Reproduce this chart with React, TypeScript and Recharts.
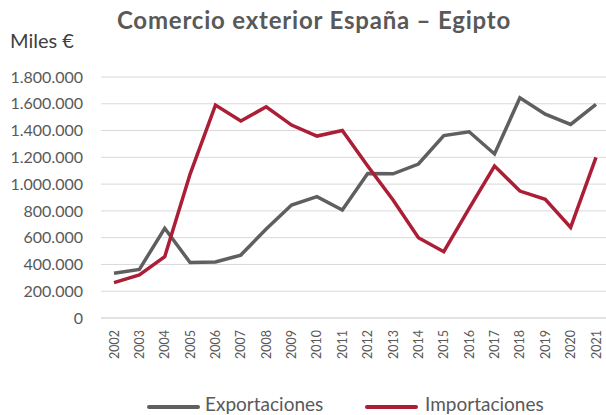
import React from "react";
import { LineChart, Line, XAxis, YAxis, CartesianGrid, Legend } from "recharts";

const years = ["2002","2003","2004","2005","2006","2007","2008","2009","2010","2011","2012","2013","2014","2015","2016","2017","2018","2019","2020","2021"];
const exportaciones = [334000, 363000, 670000, 414000, 418000, 470000, 665000, 844000, 906000, 807000, 1080000, 1077000, 1150000, 1362000, 1391000, 1225000, 1645000, 1522000, 1446000, 1596000];
const importaciones = [264000, 321000, 458000, 1075000, 1590000, 1471000, 1578000, 1441000, 1359000, 1401000, 1135000, 881000, 600000, 495000, 819000, 1135000, 948000, 886000, 677000, 1200000];
const yTicks = [0, 200000, 400000, 600000, 800000, 1000000, 1200000, 1400000, 1600000, 1800000];

const data = years.map((y, i) => ({ year: y, Exportaciones: exportaciones[i], Importaciones: importaciones[i] }));

const GRAY = "#5f5f5f";
const RED = "#ab1e36";
const TEXT = "#595959";
const FONT = "Lato, 'Open Sans', sans-serif";

const fmt = (v: number) => String(v).replace(/\B(?=(\d{3})+(?!\d))/g, ".");

const XTick = (props: any) => {
  const { x, y, payload } = props;
  const ty = y + 2;
  return (
    <text x={x} y={ty} transform={`rotate(-90, ${x}, ${ty})`} textAnchor="end" dominantBaseline="central" fill={TEXT} fontSize={12.5} fontFamily={FONT}>
      {payload.value}
    </text>
  );
};

const LegendContent = () => (
  <div style={{ position: "relative", width: 606, height: 20, fontFamily: FONT, fontSize: 19, color: TEXT }}>
    <div style={{ position: "absolute", left: 147, top: 10, width: 53, height: 4, background: GRAY, borderRadius: 2 }} />
    <div style={{ position: "absolute", left: 205, top: -2, lineHeight: "22px", whiteSpace: "nowrap" }}>Exportaciones</div>
    <div style={{ position: "absolute", left: 365, top: 10, width: 53, height: 4, background: RED, borderRadius: 2 }} />
    <div style={{ position: "absolute", left: 425, top: -2, lineHeight: "22px", whiteSpace: "nowrap" }}>Importaciones</div>
  </div>
);

export default function App() {
  return (
    <div style={{ position: "absolute", left: 0, top: 0, width: 606, height: 415, background: "#fff", overflow: "hidden" }}>
      <div style={{ position: "absolute", left: 0, top: 5, width: 628, textAlign: "center", fontFamily: FONT, fontWeight: 700, fontSize: 24, letterSpacing: 0.8, color: TEXT, whiteSpace: "nowrap" }}>
        Comercio exterior España – Egipto
      </div>
      <div style={{ position: "absolute", left: 10, top: 28, fontFamily: FONT, fontSize: 20, color: "#404040", whiteSpace: "nowrap" }}>
        Miles €
      </div>
      <LineChart width={606} height={415} data={data} margin={{ top: 77, right: 0, bottom: 0, left: 0 }}>
        <CartesianGrid horizontal={true} vertical={false} stroke="#d9d9d9" strokeWidth={1} />
        <XAxis dataKey="year" type="category" interval={0} tick={<XTick />} tickLine={false} axisLine={{ stroke: "#d9d9d9" }} height={77} padding={{ left: 13, right: 10 }} tickMargin={4} />
        <YAxis type="number" domain={[0, 1800000]} ticks={yTicks} tickFormatter={fmt} width={101} tickLine={false} axisLine={false} tickMargin={12} tick={{ fill: TEXT, fontSize: 16, fontFamily: FONT }} />
        <Legend verticalAlign="bottom" height={20} content={<LegendContent />} wrapperStyle={{ left: 0, width: 606 }} />
        <Line type="linear" dataKey="Exportaciones" stroke={GRAY} strokeWidth={3.5} dot={false} isAnimationActive={false} />
        <Line type="linear" dataKey="Importaciones" stroke={RED} strokeWidth={3.5} dot={false} isAnimationActive={false} />
      </LineChart>
    </div>
  );
}
